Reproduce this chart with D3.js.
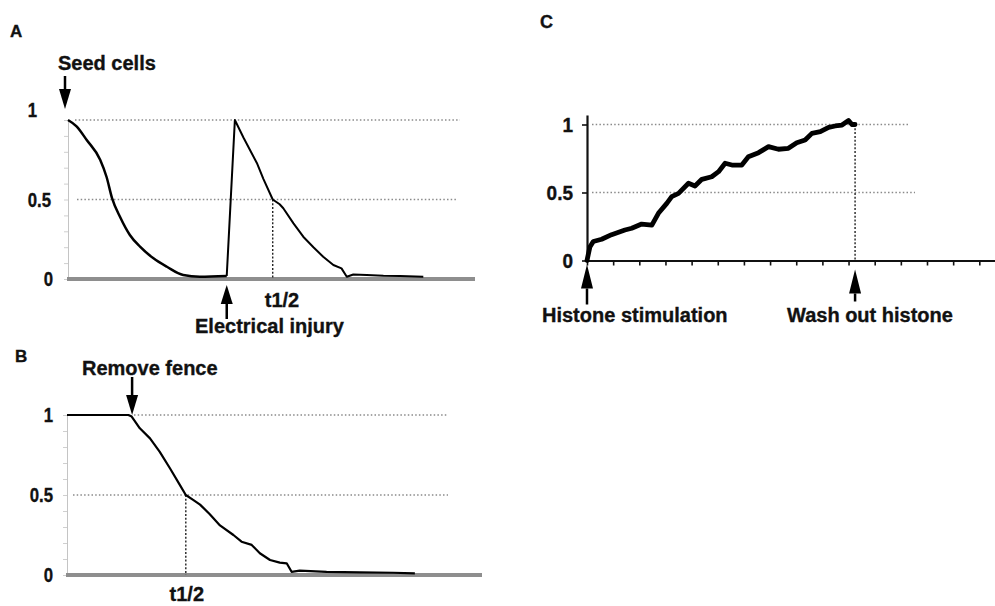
<!DOCTYPE html>
<html>
<head>
<meta charset="utf-8">
<script src="https://cdn.jsdelivr.net/npm/d3@7"></script>
<style>
  html, body { margin: 0; padding: 0; background: #fff; }
  svg { display: block; }
  text { font-family: "Liberation Sans", Arial, sans-serif; font-weight: bold; fill: #111;
         stroke: #111; stroke-width: 0.35px; }
</style>
</head>
<body>
<svg id="chart" width="995" height="606"></svg>
<script>
// ---- Panel A: seeding, then recovery after electrical injury ----
const aTime  = [0, 2.1, 4.6, 7.9, 9.5, 10.8, 12.8, 15.2, 17.7, 21.0, 24.3, 28.3, 32.4, 39.0,
                41.0, 43.1, 46.4, 48.0, 50.3, 52.0, 52.9, 55.4, 57.8, 60.3, 62.7, 65.2, 67.2,
                68.5, 70.1, 73.4, 77.5, 81.6, 87.3];
const aValue = [1.0, 0.96, 0.874, 0.75, 0.64, 0.51, 0.39, 0.277, 0.203, 0.13, 0.077, 0.025, 0.014, 0.019,
                1.0, 0.89, 0.73, 0.63, 0.5, 0.47, 0.445, 0.35, 0.266, 0.2, 0.14, 0.088, 0.067,
                0.014, 0.028, 0.025, 0.02, 0.019, 0.014];
const aSeedTime = 0;
const aInjuryTime = 39.0;
const aHalfTime = 50.3;

// ---- Panel B: fence removal ----
const bTime  = [0, 15.1, 15.9, 17.9, 20.4, 22.8, 25.3, 27.8, 29.2, 31.0, 32.7, 35.1, 37.6, 40.9,
                42.9, 45.4, 47.4, 49.9, 52.3, 54.0, 55.2, 57.2, 63.8, 72.0, 80.2, 85.5];
const bValue = [1.0, 1.0, 0.99, 0.917, 0.854, 0.77, 0.667, 0.56, 0.5, 0.47, 0.44, 0.38, 0.31, 0.25,
                0.208, 0.188, 0.136, 0.094, 0.077, 0.073, 0.02, 0.027, 0.02, 0.017, 0.014, 0.01];
const bFenceTime = 16.0;
const bHalfTime = 29.2;

// ---- Panel C: histone stimulation ----
const cTime  = [0, 0.11, 0.24, 0.56, 0.94, 1.45, 1.71, 2.09, 2.48, 2.73, 3.05, 3.24, 3.50, 3.88,
                4.13, 4.39, 4.77, 5.03, 5.28, 5.54, 5.92, 6.17, 6.56, 6.94, 7.32, 7.70, 8.02,
                8.34, 8.60, 8.92, 9.24, 9.49, 9.75, 10.0, 10.13, 10.25];
const cValue = [0.0, 0.10, 0.14, 0.156, 0.19, 0.224, 0.237, 0.268, 0.26, 0.347, 0.42, 0.47, 0.494, 0.568,
                0.548, 0.597, 0.616, 0.653, 0.715, 0.702, 0.702, 0.763, 0.793, 0.837, 0.818, 0.825, 0.866,
                0.886, 0.935, 0.947, 0.979, 0.989, 0.996, 1.03, 1.0, 1.0];
const cStimTime = 0;
const cWashTime = 10.25;
const cXTicks = d3.range(0, 16);

// shared value ticks and labels
const yTicks = [0, 0.5, 1];
const yTickLabels = ["0", "0.5", "1"];
const yMinorTicks = d3.range(0, 11).map(i => i / 10);

const svg = d3.select("#chart");

// ---------- helpers ----------
function arrow(g, x, tipY, headLen, stemLen, dir) {
  // dir = 1 points down, -1 points up
  const baseY = tipY - dir * headLen;
  g.append("line")
    .attr("x1", x).attr("x2", x)
    .attr("y1", baseY).attr("y2", baseY - dir * stemLen)
    .attr("stroke", "#000").attr("stroke-width", 2.5);
  g.append("path")
    .attr("d", `M${x},${tipY} L${x - 6},${baseY} L${x + 6},${baseY} Z`)
    .attr("fill", "#000");
}

function dottedH(g, y, x1, x2) {
  g.append("line").attr("x1", x1).attr("x2", x2).attr("y1", y).attr("y2", y)
    .attr("stroke", "#8a8a8a").attr("stroke-width", 1.3).attr("stroke-dasharray", "1.5,2.2");
}
function dottedV(g, x, y1, y2) {
  g.append("line").attr("x1", x).attr("x2", x).attr("y1", y1).attr("y2", y2)
    .attr("stroke", "#222").attr("stroke-width", 1.4).attr("stroke-dasharray", "2,1.8");
}

function condensedLabel(g, x, y, txt, anchor, size, sx) {
  g.append("g").attr("transform", `translate(${x},${y}) scale(${sx},1)`)
    .append("text").attr("text-anchor", anchor)
    .attr("font-size", size).text(txt);
}

// gray-axis panel (A and B)
function grayPanel(g, x, y, xEnd, labelOffsets) {
  // light vertical axis with minor ticks
  const ax = g.append("g").attr("transform", `translate(${x(0)},0)`)
    .call(d3.axisLeft(y).tickValues(yMinorTicks).tickSize(4).tickSizeOuter(0).tickFormat(""));
  ax.select(".domain").attr("stroke", "#c4c4c4").attr("stroke-width", 1);
  ax.selectAll(".tick line").attr("stroke", "#cfcfcf");
  // thick gray baseline
  g.append("line").attr("x1", x(0) - 1).attr("x2", xEnd).attr("y1", y(0)).attr("y2", y(0))
    .attr("stroke", "#8e8e8e").attr("stroke-width", 4);
  // value labels
  yTicks.forEach((v, i) => {
    const o = labelOffsets[i];
    condensedLabel(g, 53 + o[0], y(v) + 7 + o[1], yTickLabels[i], "end", 20, 0.84);
  });
}

// ---------- Panel A ----------
const gA = svg.append("g");
const xA = d3.scaleLinear([0, 100], [68, 475]);
const yA = d3.scaleLinear([0, 1], [279, 120]);
gA.append("text").attr("x", 10).attr("y", 37).attr("font-size", 17).text("A");
dottedH(gA, yA(1), 75, 460);
dottedH(gA, yA(0.5), 77, 458);
grayPanel(gA, xA, yA, 475, [[0, 0], [-2, 0], [-16, -10]]);
dottedV(gA, xA(aHalfTime), yA(0.5), yA(0));
const aPts = aTime.map((t, i) => [t, aValue[i]]);
const aSplit = aTime.indexOf(aInjuryTime);
// smooth initial decline after seeding
gA.append("path")
  .datum(aPts.slice(0, aSplit + 1))
  .attr("d", d3.line().curve(d3.curveMonotoneX).x(d => xA(d[0])).y(d => yA(d[1])))
  .attr("fill", "none").attr("stroke", "#000").attr("stroke-width", 2.5);
// spike at injury and the noisy recovery trace
gA.append("path")
  .datum(aPts.slice(aSplit))
  .attr("d", d3.line().x(d => xA(d[0])).y(d => yA(d[1])))
  .attr("fill", "none").attr("stroke", "#000").attr("stroke-width", 2)
  .attr("stroke-linejoin", "round");
arrow(gA, xA(aSeedTime) - 3, yA(1) - 11, 20, 13, 1);
gA.append("text").attr("x", 58).attr("y", 70).attr("font-size", 20).text("Seed cells");
arrow(gA, xA(aInjuryTime), yA(0) + 6, 19, 15, -1);
gA.append("text").attr("x", 282).attr("y", 307).attr("font-size", 20)
  .attr("text-anchor", "middle").text("t1/2");
gA.append("text").attr("x", 195).attr("y", 333).attr("font-size", 20).text("Electrical injury");

// ---------- Panel B ----------
const gB = svg.append("g");
const xB = d3.scaleLinear([0, 102], [67, 482]);
const yB = d3.scaleLinear([0, 1], [575, 415]);
gB.append("text").attr("x", 15).attr("y", 362).attr("font-size", 17).text("B");
dottedH(gB, yB(1), 134, 447);
dottedH(gB, yB(0.5), 73, 448);
grayPanel(gB, xB, yB, 482, [[0, 0], [0, 0], [0, 0]]);
dottedV(gB, xB(bHalfTime), yB(0.5), yB(0));
gB.append("path")
  .datum(bTime.map((t, i) => [t, bValue[i]]))
  .attr("d", d3.line().x(d => xB(d[0])).y(d => yB(d[1])))
  .attr("fill", "none").attr("stroke", "#000").attr("stroke-width", 2.2)
  .attr("stroke-linejoin", "round");
arrow(gB, xB(bFenceTime), yB(1), 20, 18, 1);
gB.append("text").attr("x", 82).attr("y", 375).attr("font-size", 20).text("Remove fence");
gB.append("text").attr("x", xB(bHalfTime) + 1).attr("y", 601).attr("font-size", 20)
  .attr("text-anchor", "middle").text("t1/2");

// ---------- Panel C ----------
const gC = svg.append("g");
const xC = d3.scaleLinear([0, 15.6], [587, 995]);
const yC = d3.scaleLinear([0, 1.07], [260.5, 260.5 - 136 * 1.07]);
gC.append("text").attr("x", 540).attr("y", 28).attr("font-size", 18).text("C");
dottedH(gC, yC(1), 592, 910);
dottedH(gC, yC(0.5), 592, 915);
dottedV(gC, xC(cWashTime), yC(1), yC(0));

const axC = gC.append("g").attr("transform", `translate(0,${yC(0)})`)
  .call(d3.axisBottom(xC).tickValues(cXTicks).tickSize(5).tickSizeOuter(0).tickFormat(""));
axC.select(".domain").attr("stroke", "#111").attr("stroke-width", 2.2);
axC.selectAll(".tick line").attr("stroke", "#111").attr("stroke-width", 1.6);

const ayC = gC.append("g").attr("transform", `translate(${xC(0)},0)`)
  .call(d3.axisLeft(yC).tickValues(yTicks).tickSize(5).tickSizeOuter(0).tickFormat(""));
ayC.select(".domain").attr("stroke", "#111").attr("stroke-width", 2.2);
ayC.selectAll(".tick line").attr("stroke", "#111").attr("stroke-width", 1.6);
yTicks.forEach((v, i) => {
  condensedLabel(gC, 573, yC(v) + 7, yTickLabels[i], "end", 20, 0.95);
});

gC.append("path")
  .datum(cTime.map((t, i) => [t, cValue[i]]))
  .attr("d", d3.line().x(d => xC(d[0])).y(d => yC(d[1])))
  .attr("fill", "none").attr("stroke", "#000").attr("stroke-width", 4.8)
  .attr("stroke-linejoin", "round").attr("stroke-linecap", "round");

arrow(gC, xC(cStimTime), yC(0) + 4, 24, 16, -1);
arrow(gC, xC(cWashTime), yC(0) + 9, 24, 8, -1);
gC.append("text").attr("x", 542).attr("y", 322).attr("font-size", 20).text("Histone stimulation");
gC.append("text").attr("x", 787).attr("y", 322).attr("font-size", 20).text("Wash out histone");
</script>
</body>
</html>
